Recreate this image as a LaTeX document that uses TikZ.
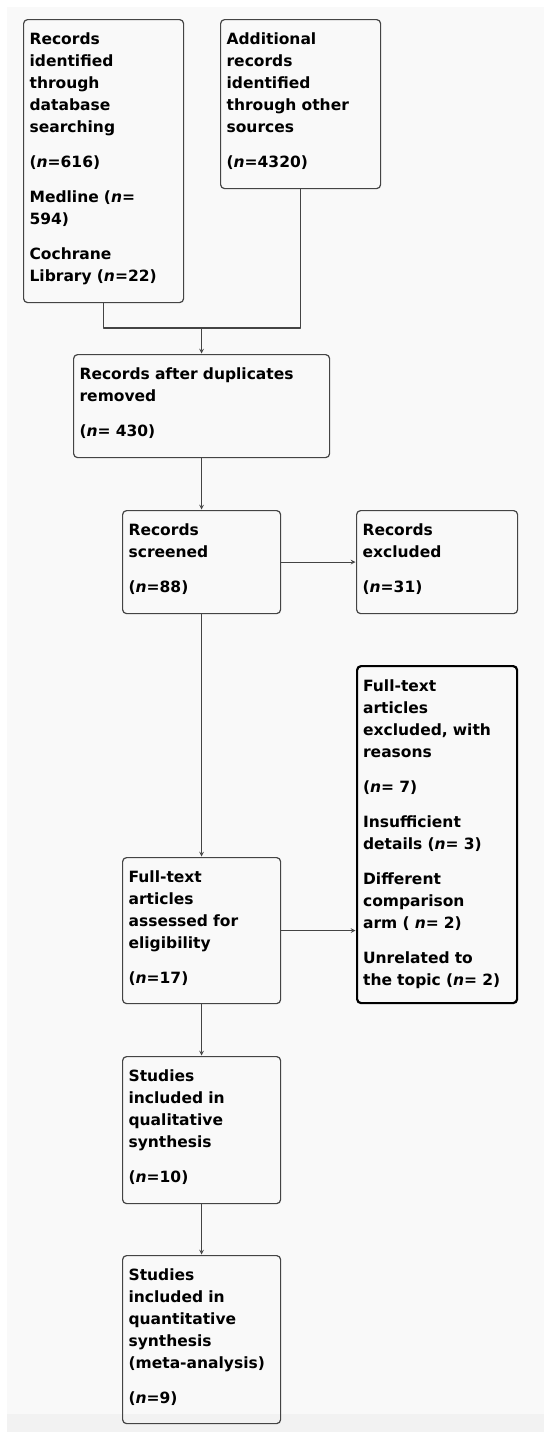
\documentclass[tikz,border=0pt]{standalone}
\usepackage{fontspec}
\setmainfont{DejaVu Sans}
\usetikzlibrary{arrows}
\definecolor{bg}{HTML}{F9F9F9}
\definecolor{bgfoot}{HTML}{F2F2F2}
\definecolor{edge}{HTML}{444444}
\tikzset{
  flowbox/.style={draw=edge,line width=1.2pt,rounded corners=4pt,anchor=north west,
    align=left,inner xsep=6pt,inner ysep=0pt,text height=25pt,
    font=\fontsize{15.5}{22}\selectfont\bfseries},
  flowline/.style={draw=edge,line width=1.1pt},
  flowarrow/.style={flowline,->,>=stealth,shorten >=0.5pt}
}
\newcommand{\nn}{\textit{n}}
\begin{document}
\begin{tikzpicture}[x=1pt,y=-1pt,line join=round]
	%nền
	\fill[white] (0,0) rectangle (544,1432);
	\fill[bg] (7,7) rectangle (544,1414);
	\fill[bgfoot] (7,1414) rectangle (544,1432);
	%các ô
	\node[flowbox,text width=148pt,text depth=258pt] (ident) at (23,19)
		{Records\\identified\\through\\database\\searching\\[13pt](\nn=616)\\[13pt]Medline (\nn=\\594)\\[13pt]Cochrane\\Library (\nn=22)};
	\node[flowbox,text width=148pt,text depth=144pt] (other) at (220,19)
		{Additional\\records\\identified\\through other\\sources\\[13pt](\nn=4320)};
	\node[flowbox,text width=244pt,text depth=78pt] (dup) at (73,354)
		{Records after duplicates\\removed\\[13pt](\nn= 430)};
	\node[flowbox,text width=146pt,text depth=78pt] (screen) at (122,510)
		{Records\\screened\\[13pt](\nn=88)};
	\node[flowbox,text width=149pt,text depth=78pt] (excl) at (356,510)
		{Records\\excluded\\[13pt](\nn=31)};
	\node[flowbox,draw=black,line width=2.2pt,text width=148pt,text depth=312pt] (fullexcl) at (356,665)
		{Full-text\\articles\\excluded, with\\reasons\\[13pt](\nn= 7)\\[13pt]Insufficient\\details (\nn= 3)\\[13pt]Different\\comparison\\arm ( \nn= 2)\\[13pt]Unrelated to\\the topic (\nn= 2)};
	\node[flowbox,text width=146pt,text depth=121pt] (full) at (122,857)
		{Full-text\\articles\\assessed for\\eligibility\\[13pt](\nn=17)};
	\node[flowbox,text width=146pt,text depth=122pt] (qual) at (122,1056)
		{Studies\\included in\\qualitative\\synthesis\\[13pt](\nn=10)};
	\node[flowbox,text width=146pt,text depth=143pt] (quant) at (122,1255)
		{Studies\\included in\\quantitative\\synthesis\\(meta-analysis)\\[13pt](\nn=9)};
	%đường nối
	\coordinate (join) at (dup.north |- 0,328);
	\draw[flowline] (ident.south) |- (join) -| (other.south);
	\draw[flowarrow] (join) -- (dup.north);
	\draw[flowarrow] (dup.south) -- (screen.north);
	\draw[flowarrow] (screen.east) -- (excl.west);
	\draw[flowarrow] (screen.south) -- (full.north);
	\draw[flowarrow] (full.east) -- (full.east -| fullexcl.west);
	\draw[flowarrow] (full.south) -- (qual.north);
	\draw[flowarrow] (qual.south) -- (quant.north);
\end{tikzpicture}
\end{document}
